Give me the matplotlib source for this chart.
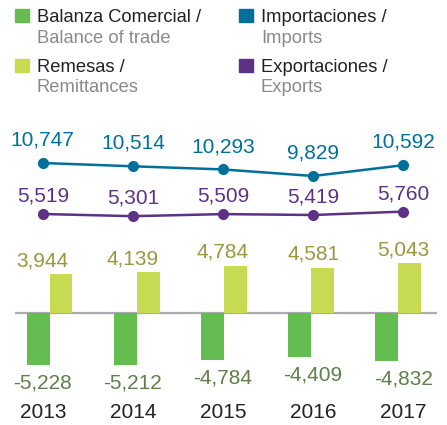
import numpy as np
import matplotlib.pyplot as plt
from matplotlib.patches import Rectangle

plt.rcParams['font.family'] = ['Liberation Sans', 'DejaVu Sans']

years = ['2013', '2014', '2015', '2016', '2017']
balance = [-5228, -5212, -4784, -4409, -4832]
remittances = [3944, 4139, 4784, 4581, 5043]
imports = [10747, 10514, 10293, 9829, 10592]
exports = [5519, 5301, 5509, 5419, 5760]

c_bal = '#65bc50'
c_rem = '#c6da52'
c_imp = '#00709a'
c_exp = '#5c3186'
c_bal_txt = '#5e7e4a'
c_rem_txt = '#9a9640'

W, H = 447, 425
fig = plt.figure(figsize=(W / 100, H / 100), dpi=100)

x = np.arange(len(years))
# bars sit on a slightly tighter grid than the lines and labels
xlim_bar = (-49.5 / 87.1, (W - 49.5) / 87.1)
xlim_lab = (-42.8 / 90.1, (W - 42.8) / 90.1)


def px_axes(top, bottom, xlim, ylim):
    # full-width axes from pixel row top to bottom
    a = fig.add_axes([0, 1 - bottom / H, 1, (bottom - top) / H])
    a.set_xlim(*xlim)
    a.set_ylim(*ylim)
    a.axis('off')
    return a


# bars
scale = 0.0099
ylim_bar = (-(425 - 313) / scale, (313 - 230) / scale)
ax = px_axes(230, 425, xlim_bar, ylim_bar)
bw = 0.264
ax.bar(x - bw / 2, balance, bw, color=c_bal, zorder=2)
ax.bar(x + bw / 2, remittances, bw, color=c_rem, zorder=2)
ax.plot([(15 - 49.5) / 87.1, (437 - 49.5) / 87.1], [0, 0], color='#aaaab0', lw=1.6,
        zorder=1, solid_capstyle='butt')

ax_t = px_axes(230, 425, xlim_lab, ylim_bar)
for xi, v in zip(x, remittances):
    ax_t.annotate(f'{v:,}', (xi, v), xytext=(0, 9.5), textcoords='offset points',
                  ha='center', va='center', fontsize=15, color=c_rem_txt)
for xi, v in zip(x, balance):
    ax_t.annotate(f'{v:,}', (xi, v), xytext=(0, -13), textcoords='offset points',
                  ha='center', va='center', fontsize=15, color=c_bal_txt)
for xi, y in zip(x, years):
    ax_t.text(xi, -(413 - 313) / scale, y, ha='center', va='center',
              fontsize=15, color='#222222')

# imports line
ax_i = px_axes(150, 190, xlim_lab, (8840, 11665))
ax_i.plot(x, imports, color=c_imp, lw=1.8, marker='o', ms=7)
for xi, v in zip(x, imports):
    ax_i.annotate(f'{v:,}', (xi, v), xytext=(0, 16.5), textcoords='offset points',
                  ha='center', va='center', fontsize=15, color=c_imp)

# exports line
ax_e = px_axes(200, 230, xlim_lab, (3919, 6919))
ax_e.plot(x, exports, color=c_exp, lw=1.8, marker='o', ms=7)
for xi, v in zip(x, exports):
    ax_e.annotate(f'{v:,}', (xi, v), xytext=(0, 13), textcoords='offset points',
                  ha='center', va='center', fontsize=15, color=c_exp)

# legend
legend = [
    (15, 9, 22, 43, c_bal, 'Balanza Comercial /', 'Balance of trade'),
    (239, 9, 22, 43, c_imp, 'Importaciones /', 'Imports'),
    (15, 59, 72.5, 92.5, c_rem, 'Remesas /', 'Remittances'),
    (239, 59, 72.5, 92.5, c_exp, 'Exportaciones /', 'Exports'),
]
for lx, ly, b1, b2, col, es, en in legend:
    fig.patches.append(Rectangle((lx / W, 1 - (ly + 13) / H), 14 / W, 13 / H,
                                 transform=fig.transFigure, color=col))
    fig.text((lx + 22) / W, 1 - b1 / H, es, fontsize=13.2, color='#222222', va='baseline')
    fig.text((lx + 22) / W, 1 - b2 / H, en, fontsize=13.2, color='#8a8a8a', va='baseline')

fig.savefig('out.png', dpi=100)
